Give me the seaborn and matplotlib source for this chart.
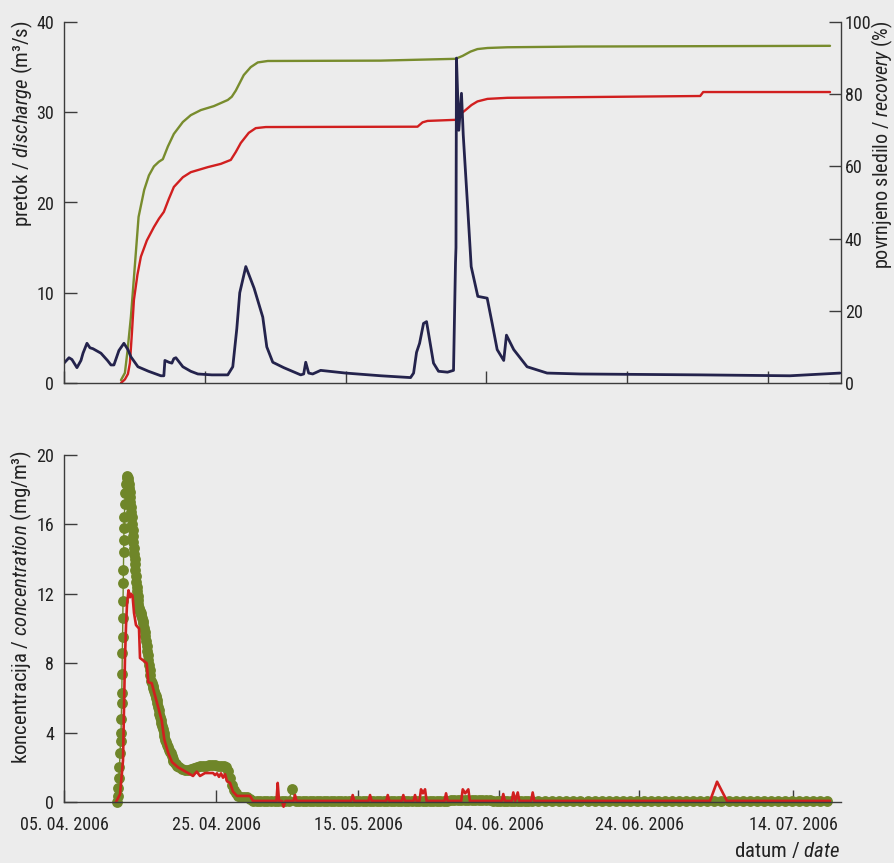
import matplotlib
matplotlib.use("Agg")
import matplotlib.pyplot as plt
from matplotlib import font_manager as fm
import seaborn as sns

# ---------------- data (x = days after 05.04.2006) ----------------
discharge_day = [0.00, 0.71, 1.13, 1.84, 2.41, 2.70, 3.26, 3.69, 4.11, 5.25, 6.17, 6.67, 7.09,
                 7.80, 8.51, 9.08, 9.50, 10.50, 12.00, 13.76, 14.18, 14.33, 14.89, 15.32, 15.60,
                 15.89, 16.88, 18.00, 19.01, 21.00, 23.26, 23.97, 24.54, 24.96, 25.82, 27.00,
                 28.23, 28.80, 29.65, 31.21, 33.62, 34.04, 34.33, 34.75, 35.32, 36.45, 40.00,
                 45.00, 49.22, 49.65, 50.07, 50.50, 51.06, 51.49, 52.48, 53.19, 54.47, 55.32,
                 55.60, 55.67, 55.74, 56.07, 56.45, 56.70, 57.35, 57.83, 58.77, 60.10, 60.81,
                 61.52, 62.45, 62.84, 63.87, 65.77, 68.61, 73.33, 90.35, 103.10, 110.20]
discharge = [2.2, 2.8, 2.6, 1.7, 2.5, 3.3, 4.4, 3.9, 3.8, 3.3, 2.5, 2.0, 2.0,
             3.6, 4.4, 3.7, 2.9, 1.8, 1.3, 0.8, 0.8, 2.5, 2.3, 2.2, 2.7,
             2.8, 1.8, 1.3, 1.0, 0.9, 0.9, 1.8, 6.0, 10.0, 12.9, 10.5,
             7.3, 4.0, 2.3, 1.7, 0.9, 1.0, 2.3, 1.1, 1.0, 1.4, 1.1,
             0.8, 0.6, 1.1, 3.4, 4.4, 6.6, 6.8, 2.2, 1.3, 1.2, 1.4,
             13.3, 15.0, 36.0, 28.0, 32.1, 27.5, 19.2, 12.9, 9.6, 9.4, 6.6,
             3.7, 2.5, 5.3, 3.7, 1.8, 1.1, 1.0, 0.9, 0.8, 1.1]

rec_green_day = [8.09, 8.65, 9.03, 9.50, 9.98, 10.59, 11.39, 12.06, 12.77, 13.48, 14.04, 14.75,
                 15.60, 16.88, 18.01, 19.43, 21.28, 23.26, 23.83, 24.40, 25.53, 26.52, 27.52,
                 28.94, 44.96, 55.60, 56.60, 57.73, 58.72, 60.14, 62.98, 73.33, 90.35, 108.79]
rec_green = [0.8, 2.8, 9.1, 18.3, 30.4, 46.0, 53.5, 57.5, 60.0, 61.3, 62.0, 65.5,
             69.0, 72.3, 74.2, 75.6, 76.7, 78.4, 79.3, 81.0, 85.3, 87.5, 88.8,
             89.2, 89.3, 89.8, 90.6, 91.8, 92.5, 92.8, 93.0, 93.2, 93.3, 93.4]

rec_red_day = [8.09, 8.65, 9.08, 9.36, 9.65, 9.93, 10.43, 10.92, 11.77, 12.77, 13.48, 14.18,
               14.89, 15.60, 16.88, 18.01, 20.43, 22.27, 23.69, 24.40, 25.11, 26.24, 27.23,
               28.65, 50.21, 50.92, 51.63, 55.60, 56.31, 57.02, 57.87, 58.72, 60.14, 62.98,
               90.35, 90.78, 108.79]
rec_red = [0.0, 1.0, 2.5, 5.5, 14.0, 23.0, 30.0, 35.0, 39.5, 43.2, 45.5, 47.4,
           51.0, 54.3, 57.0, 58.4, 59.8, 60.7, 61.8, 64.0, 66.5, 69.3, 70.6,
           70.9, 71.0, 72.2, 72.6, 72.9, 74.5, 75.6, 77.0, 78.0, 78.7, 79.0,
           79.5, 80.6, 80.6]

conc_green_day = [7.66, 7.80, 7.87, 7.94, 8.01, 8.09, 8.16, 8.23, 8.27, 8.31, 8.34, 8.37, 8.41,
                  8.45, 8.48, 8.51, 8.54, 8.57, 8.60, 8.62, 8.65, 8.69, 8.77, 8.84, 8.91, 9.01,
                  9.12, 9.19, 9.26, 9.33, 9.39, 9.45, 9.50, 9.56, 9.62, 9.68, 9.74, 9.80, 9.86,
                  9.92, 9.97, 10.04, 10.10, 10.16, 10.21, 10.27, 10.33, 10.39, 10.45, 10.51,
                  10.57, 10.63, 10.68, 10.77, 10.85, 10.95, 11.04, 11.12, 11.21, 11.30, 11.39,
                  11.48, 11.57, 11.67, 11.77, 11.85, 11.94, 12.02, 12.10, 12.19, 12.28, 12.38,
                  12.48, 12.59, 12.70, 12.80, 12.91, 13.01, 13.12, 13.21, 13.29, 13.38, 13.48,
                  13.57, 13.67, 13.76, 13.86, 13.95, 14.04, 14.15, 14.26, 14.36, 14.47, 14.61,
                  14.75, 14.90, 15.04, 15.16, 15.28, 15.40, 15.53, 15.67, 15.82, 15.96, 16.10,
                  16.45, 16.88, 17.30, 17.73, 18.16,
                  18.58, 19.01, 19.43, 19.86, 20.28, 20.71, 21.13, 21.56, 21.99, 22.41, 22.84,
                  23.12, 23.40, 23.69, 23.97, 24.26, 24.54, 24.82, 25.25, 25.67, 26.10, 26.52,
                  26.95,
                  27.5, 28.0, 28.5, 29.0, 29.5, 30.0, 30.5, 31.0, 31.5, 32.0, 32.5, 33.0, 33.5,
                  34.0, 34.5, 35.0, 35.5, 36.0, 36.5, 37.0, 37.5, 38.0, 38.5, 39.0, 39.5, 40.0,
                  40.5, 41.0, 41.5, 42.0, 42.5, 43.0, 43.5, 44.0, 44.5, 45.0, 45.5, 46.0, 46.5,
                  47.0, 47.5, 48.0, 48.5, 49.0, 49.5, 50.0, 50.5, 51.0, 51.5, 52.0, 52.5, 53.0,
                  53.5, 54.0, 54.5, 55.0, 55.5, 56.0, 56.5, 57.0, 57.5, 58.0, 58.5, 59.0, 59.5,
                  60.0, 60.5, 61.0, 61.5, 62.0, 62.5, 63.0, 63.5, 64.0, 64.5, 65.0, 65.5, 66.0,
                  66.5,
                  67.4, 68.4, 69.4, 70.4, 71.4, 72.4, 73.4, 74.4, 75.4, 76.4, 77.4, 78.4, 79.4,
                  80.4, 81.4, 82.4, 83.4, 84.4, 85.4, 86.4, 87.4, 88.4, 89.4, 90.4, 91.4, 92.4,
                  93.4, 94.4, 95.4, 96.4, 97.4, 98.4, 99.4, 100.4, 101.4, 102.4, 103.4, 104.4,
                  105.4, 106.4, 107.4, 108.4]
conc_green = [0.0, 0.35, 0.8, 1.4, 2.0, 2.8, 3.5, 4.0, 4.8, 5.7, 6.3, 7.4, 8.6,
              9.5, 10.6, 11.6, 12.6, 13.4, 14.4, 15.1, 15.8, 16.4, 17.2, 17.8, 18.3, 18.7,
              18.8, 18.7, 18.5, 18.3, 18.1, 17.85, 17.6, 17.3, 17.0, 16.7, 16.4, 16.05, 15.7,
              15.35, 15.0, 14.65, 14.3, 14.0, 13.7, 13.35, 13.0, 12.7, 12.4, 12.15,
              11.9, 11.65, 11.4, 11.2, 11.0, 10.95, 10.9, 10.75, 10.6, 10.45, 10.3,
              10.05, 9.8, 9.55, 9.3, 9.0, 8.7, 8.45, 8.2, 7.9, 7.6, 7.3,
              7.0, 6.85, 6.7, 6.55, 6.4, 6.25, 6.1, 6.0, 5.9, 5.7, 5.5,
              5.3, 5.1, 4.9, 4.7, 4.55, 4.4, 4.2, 4.0, 3.8, 3.6, 3.45,
              3.3, 3.15, 3.0, 2.9, 2.8, 2.65, 2.5, 2.37, 2.25, 2.17, 2.1,
              2.0, 1.9, 1.85, 1.85, 1.9,
              1.95, 2.0, 2.05, 2.1, 2.1, 2.12, 2.12, 2.12, 2.1, 2.1, 2.05,
              2.0, 1.8, 1.4, 1.0, 0.7, 0.5, 0.35, 0.3, 0.3, 0.28, 0.15,
              0.06,
              0.06, 0.06, 0.06, 0.06, 0.06, 0.06, 0.06, 0.06, 0.06, 0.06, 0.73, 0.06, 0.06,
              0.06, 0.06, 0.06, 0.06, 0.06, 0.06, 0.06, 0.06, 0.06, 0.06, 0.06, 0.06, 0.06,
              0.06, 0.06, 0.06, 0.06, 0.06, 0.06, 0.06, 0.06, 0.06, 0.06, 0.06, 0.06, 0.06,
              0.06, 0.06, 0.06, 0.06, 0.06, 0.06, 0.06, 0.06, 0.06, 0.06, 0.06, 0.06, 0.06,
              0.06, 0.06, 0.08, 0.12, 0.13, 0.13, 0.14, 0.14, 0.14, 0.13, 0.13, 0.13, 0.12,
              0.12, 0.10, 0.08, 0.06, 0.06, 0.06, 0.06, 0.06, 0.06, 0.06, 0.06, 0.06, 0.06,
              0.06,
              0.04, 0.04, 0.04, 0.04, 0.04, 0.04, 0.04, 0.04, 0.04, 0.04, 0.04, 0.04, 0.04,
              0.04, 0.04, 0.04, 0.04, 0.04, 0.04, 0.04, 0.04, 0.04, 0.04, 0.04, 0.04, 0.04,
              0.04, 0.04, 0.04, 0.04, 0.04, 0.04, 0.04, 0.04, 0.04, 0.04, 0.04, 0.04,
              0.04, 0.04, 0.04, 0.04]

conc_red_day = [7.52, 8.09, 8.51, 8.65, 8.79, 8.94, 9.08, 9.29, 9.50, 9.65, 9.86, 10.07, 10.35,
                10.78, 10.92, 11.87, 12.10, 12.58, 14.00, 14.37, 14.94, 15.46, 16.31, 17.73,
                18.44, 18.96, 19.43, 20.14, 21.28, 21.56, 21.84, 22.13, 22.41, 22.70, 22.98,
                23.26, 23.69, 24.11, 24.68, 26.52, 26.95,
                30.28, 30.45, 30.64, 31.06, 31.28, 31.56, 32.70, 32.91, 33.12,
                40.87, 41.09, 41.31, 43.33, 43.55, 43.77, 45.84, 46.06, 46.28,
                48.05, 48.27, 48.49, 49.71, 49.93, 50.15, 50.56, 50.78, 51.05, 51.35, 51.57,
                54.11, 54.33, 54.55, 56.48, 56.70, 57.05, 57.49, 57.71,
                62.23, 62.45, 62.67, 63.65, 63.87, 64.15, 64.50, 64.72,
                66.40, 66.62, 66.84, 91.77, 92.77, 94.18, 108.79]
conc_red = [0.0, 0.45, 2.4, 5.4, 8.3, 10.2, 11.4, 12.2, 11.8, 12.0, 11.9, 10.9, 10.2,
            10.0, 8.3, 8.0, 6.9, 6.85, 4.7, 3.6, 2.8, 2.3, 2.0, 1.67,
            1.5, 1.75, 1.5, 1.67, 1.67, 1.55, 1.65, 1.45, 1.65, 1.4, 1.6,
            1.2, 1.1, 0.6, 0.35, 0.35, 0.06,
            0.06, 1.1, 0.06, 0.06, -0.27, 0.06, 0.06, 0.4, 0.06,
            0.06, 0.4, 0.06, 0.06, 0.4, 0.06, 0.06, 0.4, 0.06,
            0.06, 0.4, 0.06, 0.06, 0.4, 0.06, 0.06, 0.73, 0.5, 0.73, 0.06,
            0.06, 0.5, 0.06, 0.06, 0.73, 0.5, 0.73, 0.06,
            0.06, 0.46, 0.06, 0.06, 0.55, 0.06, 0.55, 0.06,
            0.06, 0.55, 0.06, 0.06, 1.17, 0.06, 0.06]

top_tick_days = [0, 20, 40, 60, 80, 100]
bottom_tick_days = [0.14, 21.70, 41.84, 61.84, 81.70, 103.55]
date_labels = ["05. 04. 2006", "25. 04. 2006", "15. 05. 2006",
               "04. 06. 2006", "24. 06. 2006", "14. 07. 2006"]
discharge_ticks = [0, 10, 20, 30, 40]
recovery_ticks = [0, 20, 40, 60, 80, 100]
conc_ticks = [0, 4, 8, 12, 16, 20]

# ---------------- style ----------------
BG = "#ececec"
NAVY = "#24234c"
OLIVE = "#788c2d"
OLIVE_M = "#6f8629"
RED = "#d11f1f"
SPINE = "#3c3c3c"

sns.set_theme(style="ticks")

names = {f.name for f in fm.fontManager.ttflist}
FAM = "Roboto Condensed" if "Roboto Condensed" in names else "Liberation Sans"

plt.rcParams["font.family"] = [FAM, "DejaVu Sans"]
plt.rcParams["mathtext.fontset"] = "custom"
plt.rcParams["mathtext.rm"] = FAM
plt.rcParams["mathtext.it"] = f"{FAM}:italic"
plt.rcParams["text.color"] = "#222222"

fig = plt.figure(figsize=(8.94, 8.63), dpi=100, facecolor=BG)
L, W = 64 / 894, 776.5 / 894
ax = fig.add_axes([L, 1 - 383 / 863, W, 361 / 863])
ax2 = ax.twinx()
ax3 = fig.add_axes([L, 1 - 802 / 863, W, 347 / 863])

for a in (ax, ax2, ax3):
    a.patch.set_visible(False)
ax.set_zorder(3)
ax2.set_zorder(2)

# top panel
sns.lineplot(x=rec_green_day, y=rec_green, ax=ax2, color=OLIVE, lw=1.7, sort=False,
             estimator=None)
sns.lineplot(x=rec_red_day, y=rec_red, ax=ax2, color=RED, lw=1.7, sort=False,
             estimator=None)
sns.lineplot(x=discharge_day, y=discharge, ax=ax, color=NAVY, lw=2.0, sort=False,
             estimator=None)

xmin, xmax = 0.14, 110.28
ax.set_xlim(xmin, xmax)
ax.set_ylim(0, 40)
ax2.set_ylim(0, 100)
ax.set_xticks(top_tick_days)
ax.set_yticks(discharge_ticks)
ax2.set_yticks(recovery_ticks)
ax.tick_params(axis="x", labelbottom=False)

for s in ("top", "right"):
    ax.spines[s].set_visible(False)
for s in ("top", "left", "bottom"):
    ax2.spines[s].set_visible(False)
ax2.spines["right"].set_visible(True)

# bottom panel
sns.lineplot(x=conc_green_day, y=conc_green, ax=ax3, color=OLIVE_M, lw=1.0, marker="o",
             markersize=7.8, markeredgewidth=0, sort=False, estimator=None, clip_on=False)
sns.lineplot(x=conc_red_day, y=conc_red, ax=ax3, color=RED, lw=1.9, sort=False,
             estimator=None, clip_on=False)
ax3.set_xlim(xmin, xmax)
ax3.set_ylim(0, 20)
ax3.set_xticks(bottom_tick_days)
ax3.set_xticklabels(date_labels)
ax3.set_yticks(conc_ticks)
for s in ("top", "right"):
    ax3.spines[s].set_visible(False)

for a in (ax, ax2, ax3):
    a.set_xlabel("")
    a.set_ylabel("")
    for sp in a.spines.values():
        sp.set_color(SPINE)
        sp.set_linewidth(1.0)
    a.tick_params(axis="both", direction="in", length=9, width=1.0, color=SPINE,
                  labelsize=13, labelcolor="#222222")
ax.tick_params(axis="y", pad=7)
ax2.tick_params(axis="y", pad=3)
ax3.tick_params(axis="y", pad=7)
ax3.tick_params(axis="x", pad=10)

fs = 15.0
fig.text(0.0246, 0.976, r"pretok / $\mathit{discharge}$ (m³/s)", rotation=90,
         ha="center", va="top", fontsize=fs)
fig.text(0.9865, 0.976, r"povrnjeno sledilo / $\mathit{recovery}$ (%)", rotation=90,
         ha="center", va="top", fontsize=14.5)
fig.text(0.0240, 1 - 450 / 863, r"koncentracija / $\mathit{concentration}$ (mg/m³)",
         rotation=90, ha="center", va="top", fontsize=fs)
fig.text(840 / 894, 1 - 851 / 863, r"datum / $\mathit{date}$", ha="right", va="center",
         fontsize=fs)

fig.savefig("out.png", dpi=100, facecolor=BG)
